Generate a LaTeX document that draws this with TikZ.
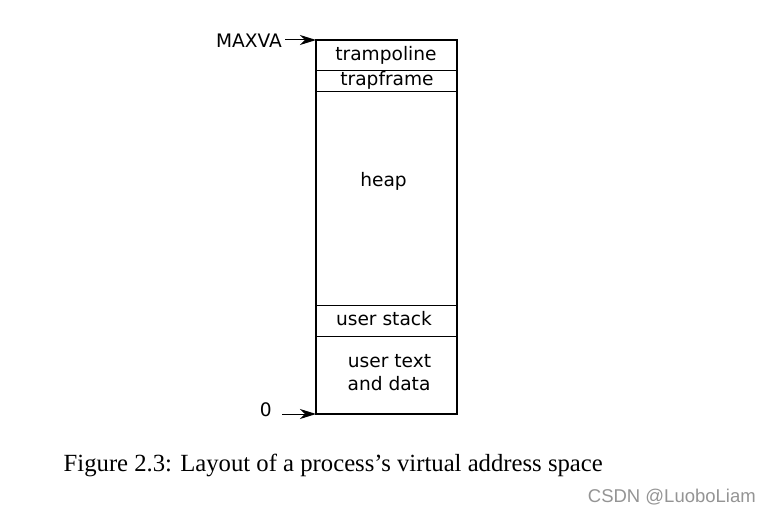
\documentclass[tikz,border=0pt]{standalone}
\usepackage{fontspec}
\setmainfont{Liberation Serif}
\newfontfamily\labelfont{DejaVu Sans}
\newfontfamily\markfont{Liberation Sans}
\usetikzlibrary{arrows.meta}
\begin{document}
\begin{tikzpicture}[x=1pt,y=-1pt,
  region/.style={font=\labelfont\fontsize{18.6}{22}\selectfont, inner sep=0pt, anchor=base},
  divider/.style={line width=0.9pt},
  pointer/.style={line width=1pt, -{Stealth[length=16pt,width=10pt,inset=5pt]}}]
\useasboundingbox (0,0) rectangle (770,510);
% outer frame of the address space
\draw[line width=1.3pt] (316,40) rectangle (457,414);
\coordinate (top) at (316,40);
\coordinate (bottom) at (316,414);
\coordinate (zerotail) at (282,414);
% region boundaries
\draw[divider] (316,70) -- (457,70);
\draw[divider] (316,91) -- (457,91);
\draw[divider] (316,305) -- (457,305);
\draw[divider] (316,336) -- (457,336);
% region labels
\node[region] (tramp) at (386,61) {trampoline};
\node[region] (trapf) at (387,85.5) {trapframe};
\node[region] (heap) at (383.5,187) {heap};
\node[region] (ustack) at (384,325) {user stack};
\node[region] (utext) at (389.5,367) {user text};
\node[region] (udata) at (389,390) {and data};
% address markers
\node[region, anchor=base east] (maxva) at (282,47.5) {MAXVA};
\node[region, anchor=base east] (zero) at (272,416) {0};
\draw[pointer] (maxva.east |- top) ++(3,0) -- (top);
\draw[pointer] (zerotail) -- (bottom);
% caption
\node[anchor=base west, inner sep=0pt, font=\fontsize{24.7}{28}\selectfont] (cap) at (63.5,471.5) {Figure 2.3: Layout of a process’s virtual address space};
\node[anchor=base east, inner sep=0pt, text=black!42, font=\markfont\fontsize{18.5}{22}\selectfont] (mark) at (756,502) {CSDN @LuoboLiam};
\end{tikzpicture}
\end{document}
